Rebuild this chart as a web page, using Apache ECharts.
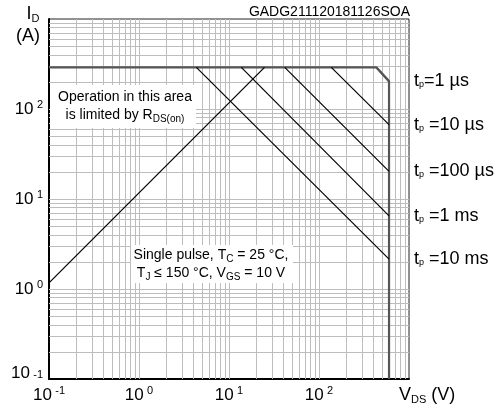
<!DOCTYPE html>
<html>
<head>
<meta charset="utf-8">
<script src="https://cdn.jsdelivr.net/npm/echarts@6/dist/echarts.min.js"></script>
<style>
  html, body { margin: 0; padding: 0; background: #fff; }
  #chart { width: 502px; height: 407px; }
</style>
</head>
<body>
<div id="chart"></div>
<script>
// both axes are log, 0.1 .. 1000
const decades = [0.1, 1, 10, 100]
const gridSteps = [1, 2, 3, 4, 5, 6, 7, 8, 9]

// limits
const currentLimit = 290   // A, package limit
const vdsMax = 600         // V
const rdsLine = [[0.1, 1.17], [24.8, 290]]

// single pulse lines: they leave the current limit at pulseStartV and hit V_DS max at pulseEndI
const pulseLabels = ['=1 µs', ' =10 µs', ' =100 µs', ' =1 ms', ' =10 ms']
const pulseStartV = [434, 137, 41.6, 13.7, 4.34]
const pulseEndI = [203, 67, 20.3, 6.5, 2.15]

const font = 'Liberation Sans, Arial, sans-serif'

const gridLinesX = []
const gridLinesY = []
decades.forEach(d => gridSteps.forEach(s => {
  const v = d * s
  if (v > 0.1001) {
    gridLinesX.push({ xAxis: v })
    gridLinesY.push({ yAxis: v })
  }
}))

function powLabel(v) {
  const e = Math.round(Math.log10(v))
  return '{b|10} {s|' + e + '}'
}
// lowest y label sits a bit higher, clear of the x labels
function powLabelY(v) {
  const e = Math.round(Math.log10(v))
  if (e === -1) return '{bl|10} {sl|' + e + '}'
  return '{b|10} {s|' + e + '}'
}
const powRich = {
  b: { fontSize: 17, fontFamily: font, color: '#000', lineHeight: 20 },
  s: { fontSize: 11, fontFamily: font, color: '#000', lineHeight: 11, verticalAlign: 'top' },
  bl: { fontSize: 17, fontFamily: font, color: '#000', lineHeight: 20, padding: [0, 0, 12, 0] },
  sl: { fontSize: 11, fontFamily: font, color: '#000', lineHeight: 11, verticalAlign: 'top' }
}
const subRich = {
  t: { fontSize: 18, fontFamily: font, color: '#000', lineHeight: 20 },
  p: { fontSize: 9, fontFamily: font, color: '#000', lineHeight: 9, verticalAlign: 'bottom', padding: [0, 0, 2, 0] }
}

const series = [
  {
    // grid lines of the log paper
    type: 'line',
    data: [],
    silent: true,
    z: 1,
    markLine: {
      z: 1,
      silent: true,
      symbol: 'none',
      label: { show: false },
      animation: false,
      lineStyle: { color: '#bdbdbd', width: 1, type: 'solid' },
      emphasis: { disabled: true },
      data: gridLinesX.concat(gridLinesY)
    }
  },
  {
    type: 'line',
    data: [[0.1, currentLimit], [pulseStartV[0], currentLimit], [vdsMax, pulseEndI[0]], [vdsMax, 0.1]],
    showSymbol: false,
    z: 5,
    lineStyle: { color: '#555', width: 2.2 }
  },
  {
    type: 'line',
    data: rdsLine,
    showSymbol: false,
    z: 6,
    lineStyle: { color: '#000', width: 1.2 }
  }
]

pulseLabels.forEach((lab, i) => {
  series.push({
    type: 'line',
    data: [[pulseStartV[i], currentLimit], [vdsMax, pulseEndI[i]]],
    showSymbol: false,
    z: i === 0 ? 5 : 6,
    lineStyle: i === 0 ? { color: '#555', width: 2.2 } : { color: '#000', width: 1.2 },
    endLabel: {
      show: true,
      distance: 25,
      formatter: '{t|t}{p|p}{t|' + lab + '}',
      rich: subRich
    }
  })
})

const chart = echarts.init(document.getElementById('chart'))
chart.setOption({
  animation: false,
  grid: {
    left: 49, top: 19, width: 360, height: 360,
    show: true, borderColor: '#222', borderWidth: 1, backgroundColor: '#fff'
  },
  xAxis: {
    type: 'log', logBase: 10, min: 0.1, max: 1000,
    axisLine: { show: true, onZero: false, lineStyle: { color: '#000', width: 2 } },
    axisTick: { show: false },
    splitLine: { show: false },
    axisLabel: { margin: 6, showMaxLabel: false, formatter: powLabel, rich: powRich }
  },
  yAxis: {
    type: 'log', logBase: 10, min: 0.1, max: 1000,
    axisLine: { show: true, onZero: false, lineStyle: { color: '#000', width: 2 } },
    axisTick: { show: false },
    splitLine: { show: false },
    axisLabel: { margin: 6, showMaxLabel: false, formatter: powLabelY, rich: powRich }
  },
  graphic: [
    { type: 'rect', z: 3, shape: { x: 50, y: 85, width: 146, height: 43 }, style: { fill: '#fff' } },
    {
      type: 'text', z: 4, x: 125, y: 106,
      style: {
        text: 'Operation in this area\nis limited by R{s|DS(on)}',
        font: '14px ' + font, fill: '#000', align: 'center', verticalAlign: 'middle', lineHeight: 18,
        rich: { s: { fontSize: 10, fontFamily: font, verticalAlign: 'bottom', lineHeight: 14 } }
      }
    },
    { type: 'rect', z: 3, shape: { x: 131, y: 245, width: 162, height: 38 }, style: { fill: '#fff' } },
    {
      type: 'text', z: 4, x: 211, y: 264,
      style: {
        text: 'Single pulse, T{s|C} = 25 °C,\nT{s|J} ≤ 150 °C, V{s|GS} = 10 V',
        font: '14px ' + font, fill: '#000', align: 'center', verticalAlign: 'middle', lineHeight: 18,
        rich: { s: { fontSize: 10, fontFamily: font, verticalAlign: 'bottom', lineHeight: 14 } }
      }
    },
    {
      type: 'text', x: 410, y: 12,
      style: { text: 'GADG211120181126SOA', font: '14px ' + font, fill: '#000', align: 'right', verticalAlign: 'middle' }
    },
    {
      type: 'text', x: 33, y: 14,
      style: {
        text: '{t|I}{p|D}', align: 'center', verticalAlign: 'middle',
        rich: { t: { fontSize: 18, fontFamily: font, lineHeight: 20 }, p: { fontSize: 11, fontFamily: font, verticalAlign: 'bottom', lineHeight: 12 } }
      }
    },
    {
      type: 'text', x: 28, y: 36,
      style: { text: '(A)', font: '18px ' + font, fill: '#000', align: 'center', verticalAlign: 'middle' }
    },
    {
      type: 'text', x: 399, y: 395,
      style: {
        text: '{t|V}{p|DS}{t| (V)}', align: 'left', verticalAlign: 'middle',
        rich: { t: { fontSize: 18, fontFamily: font, lineHeight: 20 }, p: { fontSize: 11, fontFamily: font, verticalAlign: 'bottom', lineHeight: 12 } }
      }
    }
  ],
  series: series
})
</script>
</body>
</html>
